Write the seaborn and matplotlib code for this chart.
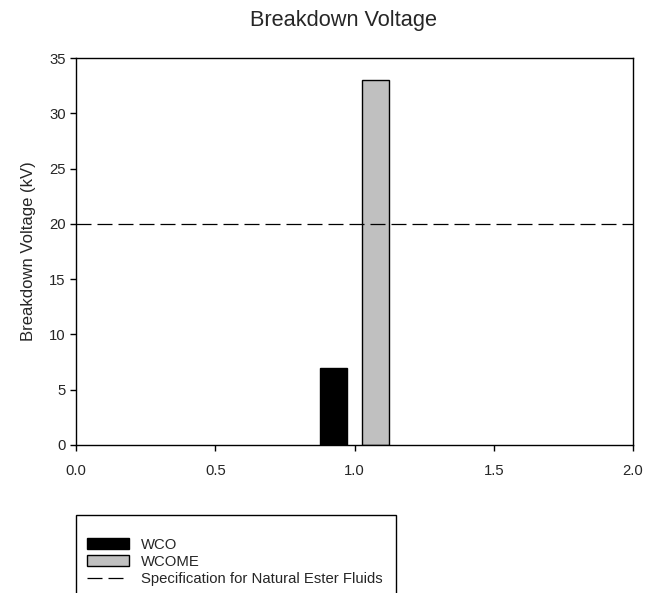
import numpy as np
import pandas as pd
import matplotlib
matplotlib.use("Agg")
import matplotlib.pyplot as plt
import seaborn as sns
from matplotlib.patches import Patch
from matplotlib.lines import Line2D

# data
samples = ["WCO", "WCOME"]
group_x = [1.0, 1.0]
voltage_kv = [7, 33]
spec_limit = 20
spec_label = "Specification for Natural Ester Fluids"
bar_colors = ["black", "#c0c0c0"]

sns.set_style("white")
plt.rcParams["font.family"] = ["Liberation Sans", "DejaVu Sans"]

df = pd.DataFrame({"x": group_x, "kv": voltage_kv, "sample": samples})

fig = plt.figure(figsize=(6.45, 5.93), dpi=100)
ax = fig.add_axes([76 / 645, 1 - 445 / 593, (633 - 76) / 645, (445 - 58) / 593])

sns.barplot(data=df, x="x", y="kv", hue="sample", palette=bar_colors,
            native_scale=True, width=0.302, gap=0.38, errorbar=None,
            edgecolor="black", linewidth=1, legend=False, ax=ax)

dash = (12, 4.8)
ax.axhline(spec_limit, color="black", lw=0.9, dashes=dash)

ax.set_xlim(0, 2)
ax.set_ylim(0, 35)
ax.set_xticks(np.arange(0, 2.01, 0.5))
ax.set_xticklabels([f"{v:.1f}" for v in np.arange(0, 2.01, 0.5)])
ax.set_yticks(range(0, 36, 5))
ax.set_xlabel("")
ax.set_ylabel("Breakdown Voltage (kV)", fontsize=12, labelpad=9)
ax.set_title("Breakdown Voltage", fontsize=15.7, pad=23, x=0.48)
ax.tick_params(axis="both", direction="out", length=4, width=1, labelsize=10.7,
               color="black", bottom=True, left=True)
ax.tick_params(axis="x", pad=10)
for s in ax.spines.values():
    s.set_color("black")
    s.set_linewidth(1)

handles = [Patch(facecolor=bar_colors[0], edgecolor="black"),
           Patch(facecolor=bar_colors[1], edgecolor="black"),
           Line2D([], [], color="black", lw=0.9, dashes=dash)]
labels = samples + [spec_label]
leg_w = (396 - 76) / 645
leg_top = 1 - 515 / 593
fig.legend(handles, labels, loc="upper left",
           bbox_to_anchor=(76 / 645, leg_top - 0.2, leg_w, 0.2),
           mode="expand", fontsize=10.7, frameon=True, fancybox=False,
           edgecolor="black", framealpha=1, borderaxespad=0,
           borderpad=0.75, labelspacing=0.2, handlelength=2.8,
           handleheight=0.75, handletextpad=0.85,
           title=" ", title_fontsize=6.5)

fig.savefig("out.png", dpi=100)
